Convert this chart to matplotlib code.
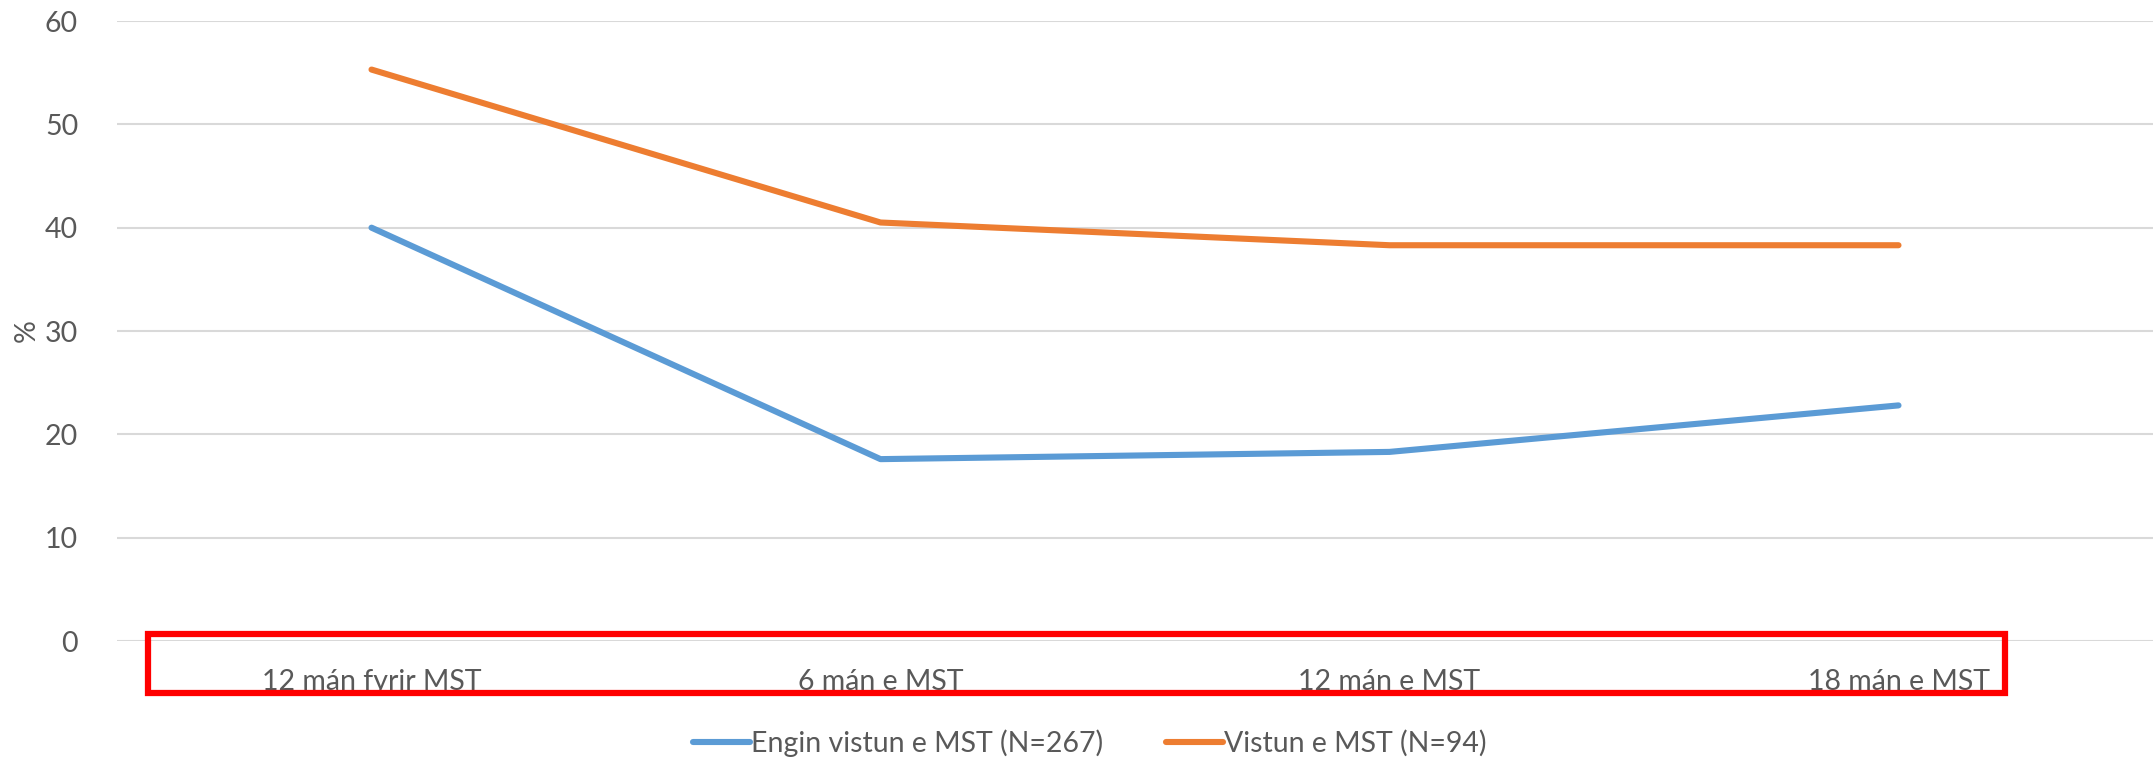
import matplotlib
matplotlib.use("Agg")
import matplotlib.pyplot as plt
from matplotlib.patches import Rectangle

# categories and series values
categories = ["12 mán fyrir MST", "6 mán e MST", "12 mán e MST", "18 mán e MST"]
engin_vistun = [40.0, 17.6, 18.3, 22.8]
vistun = [55.3, 40.5, 38.3, 38.3]
series_labels = ["Engin vistun e MST (N=267)", "Vistun e MST (N=94)"]
y_ticks = [0, 10, 20, 30, 40, 50, 60]

BLUE = "#5B9BD5"
ORANGE = "#ED7D31"
GREY = "#595959"

plt.rcParams['font.family'] = ['Lato', 'DejaVu Sans']

fig = plt.figure(figsize=(21.53, 7.6), dpi=100)
ax = fig.add_axes([117 / 2153, 119 / 760, 2036 / 2153, 620 / 760])

x = list(range(len(categories)))
ax.plot(x, engin_vistun, color=BLUE, lw=4.4, solid_capstyle="round",
        solid_joinstyle="round", label=series_labels[0], zorder=3)
ax.plot(x, vistun, color=ORANGE, lw=4.4, solid_capstyle="round",
        solid_joinstyle="round", label=series_labels[1], zorder=3)

ax.set_xlim(-0.5, len(categories) - 0.5)
ax.set_ylim(0, 60)
ax.set_yticks(y_ticks)
ax.set_xticks(x)
ax.set_xticklabels(categories)

ax.grid(axis="y", color="#D9D9D9", lw=1.5)
ax.set_axisbelow(True)
for s in ax.spines.values():
    s.set_visible(False)
ax.tick_params(axis="both", length=0, labelsize=20.5, labelcolor=GREY)
ax.tick_params(axis="y", pad=28)
ax.tick_params(axis="x", pad=20)

ax.set_ylabel("%", fontsize=20.5, color=GREY, labelpad=4)

leg = fig.legend(loc="center", bbox_to_anchor=(1090 / 2153, 1 - 743 / 760),
                 ncol=2, frameon=False, fontsize=20.5, handlelength=2.0,
                 handletextpad=0.05, columnspacing=2.2)
for t in leg.get_texts():
    t.set_color(GREY)

# red highlight box around the category labels
fig.patches.append(Rectangle((148 / 2153, 1 - 693 / 760), (2005 - 148) / 2153,
                             (693 - 634) / 760, transform=fig.transFigure,
                             fill=False, edgecolor="#FF0000", lw=4.5, zorder=5))

fig.savefig("out.png", dpi=100)
